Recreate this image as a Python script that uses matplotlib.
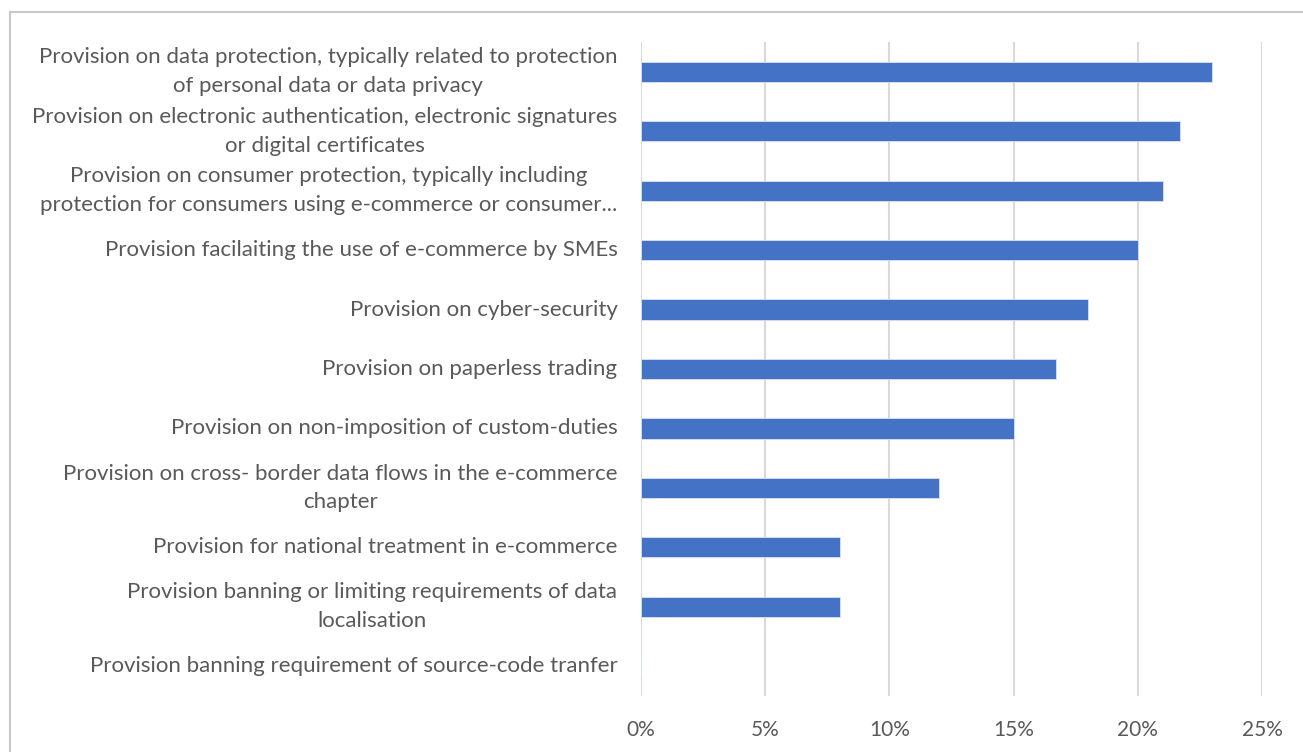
import matplotlib.pyplot as plt
from matplotlib.patches import Rectangle
from matplotlib.ticker import FuncFormatter

# categories top to bottom, values in percent
labels = [
    "Provision on data protection, typically related to protection\nof personal data or data privacy",
    "Provision on electronic authentication, electronic signatures\nor digital certificates",
    "Provision on consumer protection, typically including\nprotection for consumers using e-commerce or consumer...",
    "Provision facilaiting the use of e-commerce by SMEs",
    "Provision on cyber-security",
    "Provision on paperless trading",
    "Provision on non-imposition of custom-duties",
    "Provision on cross- border data flows in the e-commerce\nchapter",
    "Provision for national treatment in e-commerce",
    "Provision banning or limiting requirements of data\nlocalisation",
    "Provision banning requirement of source-code tranfer",
]
values = [23, 21.7, 21, 20, 18, 16.7, 15, 12, 8, 8, 0]
xticks = [0, 5, 10, 15, 20, 25]

plt.rcParams['font.family'] = ['Lato', 'DejaVu Sans']
text_color = '#595959'

fig = plt.figure(figsize=(13.03, 7.52), dpi=100)
ax = fig.add_axes([641/1303, 1-696/752, (1262-641)/1303, (696-42)/752])

# outer frame of the screenshot
fig.patches.append(Rectangle((10/1303, -0.05), 1.2, 1-12/752+0.05, transform=fig.transFigure,
                             fill=False, edgecolor='#c8c8c8', linewidth=1.5))

y = list(range(len(labels)))
ax.barh(y, values, height=0.34, color='#4472C4', edgecolor='#dae3f3', linewidth=0.6, zorder=3)

ax.set_ylim(len(labels) - 0.5, -0.5)
ax.set_xlim(0, 25)
ax.set_xticks(xticks)
ax.xaxis.set_major_formatter(FuncFormatter(lambda v, p: f"{v:.0f}%"))
ax.grid(axis='x', color='#d9d9d9', linewidth=1.5, zorder=0)
for s in ax.spines.values():
    s.set_visible(False)

ax.set_yticks(y)
ax.set_yticklabels(labels, multialignment='center', linespacing=1.55, va='center')
ax.tick_params(axis='y', length=0, pad=17, labelsize=16, labelcolor=text_color)
ax.tick_params(axis='x', length=0, pad=17, labelsize=15, labelcolor=text_color)

fig.savefig("out.png", dpi=100)
